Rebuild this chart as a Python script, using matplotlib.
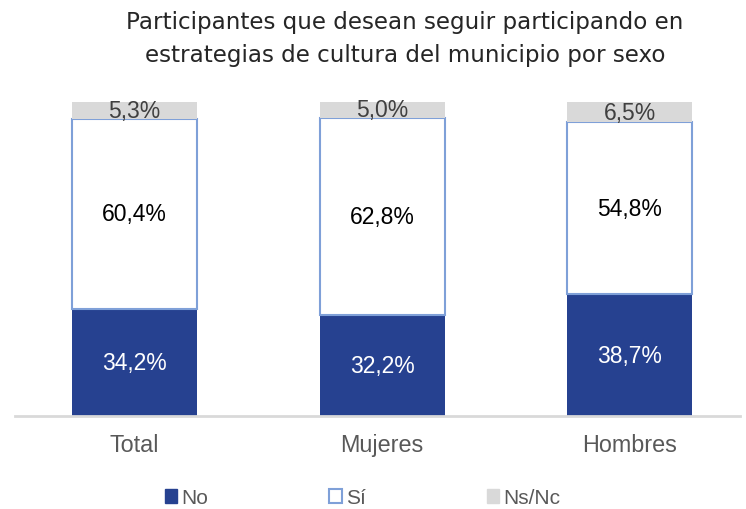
import matplotlib.pyplot as plt
from matplotlib.patches import Patch

categorias = ['Total', 'Mujeres', 'Hombres']
no = [34.2, 32.2, 38.7]
si = [60.4, 62.8, 54.8]
nsnc = [5.3, 5.0, 6.5]

azul = '#264190'
borde_si = '#7FA0D8'
gris = '#D9D9D9'

plt.rcParams['font.family'] = ['Liberation Sans', 'DejaVu Sans']

fig = plt.figure(figsize=(7.46, 5.1), dpi=100)
ax = fig.add_axes([15 / 746, 93 / 510, 725 / 746, 314 / 510])

x = range(len(categorias))
w = 0.505
ax.bar(x, no, w, color=azul, label='No')
ax.bar(x, si, w, bottom=no, color='white', edgecolor=borde_si, linewidth=1.5, label='Sí')
base = [a + b for a, b in zip(no, si)]
ax.bar(x, nsnc, w, bottom=base, color=gris, label='Ns/Nc')

def fmt(v):
    return f'{v:.1f}%'.replace('.', ',')

for i in x:
    ax.text(i, no[i] / 2, fmt(no[i]), ha='center', va='center', color='white', fontsize=16.5)
    ax.text(i, no[i] + si[i] / 2, fmt(si[i]), ha='center', va='center', color='black', fontsize=16.5)
    ax.text(i, base[i] + nsnc[i] / 2, fmt(nsnc[i]), ha='center', va='center', color='#404040', fontsize=16.5)

ax.set_xlim(-0.483, 2.446)
ax.set_ylim(0, 100)
ax.set_yticks([])
ax.set_xticks(list(x))
ax.set_xticklabels(categorias, fontsize=16.8, color='#595959')
ax.tick_params(axis='x', length=0, pad=12)
for s in ['top', 'right', 'left']:
    ax.spines[s].set_visible(False)
ax.spines['bottom'].set_color(gris)
ax.spines['bottom'].set_linewidth(2)

fig.text(0.543, 0.978, 'Participantes que desean seguir participando en\nestrategias de cultura del municipio por sexo',
         ha='center', va='top', fontsize=16.6, color='#262626', linespacing=1.55, family='DejaVu Sans')

handles = [Patch(facecolor=azul, edgecolor=azul),
           Patch(facecolor='white', edgecolor=borde_si, linewidth=1.5),
           Patch(facecolor=gris, edgecolor=gris)]
fig.legend(handles, ['No', 'Sí', 'Ns/Nc'], loc='center', bbox_to_anchor=(0.486, 0.022),
           ncol=3, frameon=False, fontsize=15, handlelength=0.6, handleheight=0.6,
           handletextpad=0.2, columnspacing=5.8, labelcolor='#595959')

fig.savefig('out.png', dpi=100)
